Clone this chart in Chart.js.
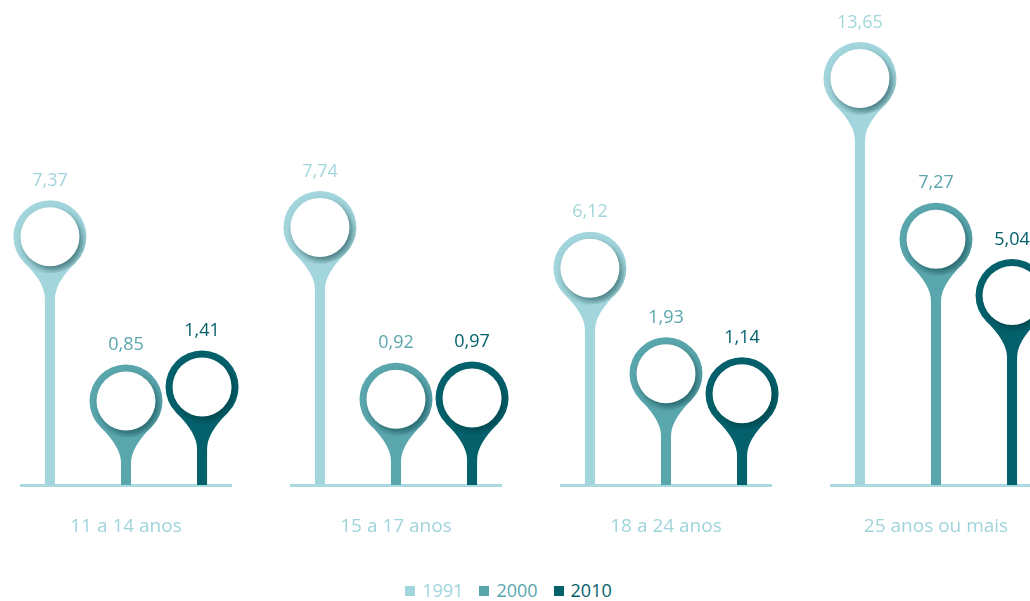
<!DOCTYPE html>
<html>
<head>
<meta charset="utf-8">
<script src="https://cdn.jsdelivr.net/npm/chart.js@4/dist/chart.umd.min.js"></script>
<style>
  html, body { margin: 0; padding: 0; background: #fff; overflow: hidden; width: 1030px; height: 601px; }
  #wrap { position: absolute; left: -9px; top: 0; width: 1080px; height: 540px; }
  #legend { position: absolute; left: 0; top: 578px; width: 1017px; text-align: center;
            font-family: "Open Sans", sans-serif; font-size: 18px; line-height: 24px; }
  #legend span.item { display: inline-block; margin: 0 0 0 16px; }
  #legend span.item:first-child { margin-left: 0; }
  #legend span.box { display: inline-block; width: 10px; height: 10px; margin-right: 7px; vertical-align: 1px; }
</style>
</head>
<body>
<div id="wrap"><canvas id="myChart"></canvas></div>
<div id="legend"></div>
<script>
const categories = ["11 a 14 anos", "15 a 17 anos", "18 a 24 anos", "25 anos ou mais"];
const years = ["1991", "2000", "2010"];
const values1991 = [7.37, 7.74, 6.12, 13.65];
const values2000 = [0.85, 0.92, 1.93, 7.27];
const values2010 = [1.41, 0.97, 1.14, 5.04];
const colors = ["#a2d6dc", "#5aa6ad", "#04616b"];

const YMIN = -2.48;
const YMAX = 16.76;

// Helper to print numbers with a comma
function fmt(v) {
  return v.toFixed(2).replace(".", ",");
}

// Draws the base line, the neck, ring and value label for every stem
const lollipopPlugin = {
  id: "lollipop",
  beforeDatasetsDraw(chart) {
    const ctx = chart.ctx;
    const xs = chart.scales.x;
    const yBase = chart.scales.y.getPixelForValue(YMIN);
    ctx.save();
    ctx.fillStyle = "#a8dadf";
    categories.forEach(function (c, i) {
      const cx = xs.getPixelForValue(i);
      ctx.fillRect(cx - 106, yBase - 1, 212, 3);
    });
    ctx.restore();
  },
  afterDatasetsDraw(chart) {
    const ctx = chart.ctx;
    chart.data.datasets.forEach(function (ds, i) {
      const meta = chart.getDatasetMeta(i);
      meta.data.forEach(function (bar, j) {
        const x = bar.x;
        const y = bar.y;
        const R = 36.5;
        const r = 29.5;
        ctx.save();
        ctx.fillStyle = ds.backgroundColor;
        // neck
        const s = R * Math.SQRT1_2;
        ctx.beginPath();
        ctx.moveTo(x - s, y + s);
        ctx.quadraticCurveTo(x - 5, y + 46, x - 5, y + 62);
        ctx.lineTo(x + 5, y + 62);
        ctx.quadraticCurveTo(x + 5, y + 46, x + s, y + s);
        ctx.closePath();
        ctx.fill();
        // ring
        ctx.beginPath();
        ctx.arc(x, y, R, 0, Math.PI * 2);
        ctx.fill();
        ctx.clip();
        ctx.shadowColor = "rgba(0, 55, 60, 0.55)";
        ctx.shadowBlur = 6;
        ctx.shadowOffsetX = 3;
        ctx.shadowOffsetY = 4;
        ctx.fillStyle = "#ffffff";
        ctx.beginPath();
        ctx.arc(x, y, r, 0, Math.PI * 2);
        ctx.fill();
        ctx.restore();
        // value label
        ctx.save();
        ctx.fillStyle = ds.backgroundColor;
        ctx.font = '18px "Open Sans"';
        ctx.textAlign = "center";
        ctx.textBaseline = "middle";
        ctx.fillText(fmt(ds.data[j]), x, y - 56);
        ctx.restore();
      });
    });
  },
};

window.addEventListener("load", function () {
  const seriesValues = [values1991, values2000, values2010];
  const datasets = years.map(function (yr, i) {
    return {
      label: yr,
      data: seriesValues[i],
      backgroundColor: colors[i],
      borderWidth: 0,
      base: YMIN,
      barPercentage: 0.132,
      categoryPercentage: 0.845,
    };
  });

  const myChart = new Chart(document.getElementById("myChart"), {
    type: "bar",
    data: { labels: categories, datasets: datasets },
    options: {
      responsive: true,
      maintainAspectRatio: false,
      animation: false,
      layout: { padding: 0 },
      plugins: { legend: { display: false }, tooltip: { enabled: false } },
      scales: {
        x: {
          grid: { display: false, drawTicks: false },
          border: { display: false },
          ticks: {
            color: "#9fd4db",
            font: { family: "Open Sans", size: 19 },
            padding: 30,
          },
          afterFit: function (scale) { scale.height = 55; },
        },
        y: { display: false, min: YMIN, max: YMAX },
      },
    },
    plugins: [lollipopPlugin],
  });

  // HTML legend
  const legend = document.getElementById("legend");
  years.forEach(function (yr, i) {
    const item = document.createElement("span");
    item.className = "item";
    item.style.color = colors[i];
    item.innerHTML = '<span class="box" style="background:' + colors[i] + '"></span>' + yr;
    legend.appendChild(item);
  });
});
</script>
</body>
</html>
